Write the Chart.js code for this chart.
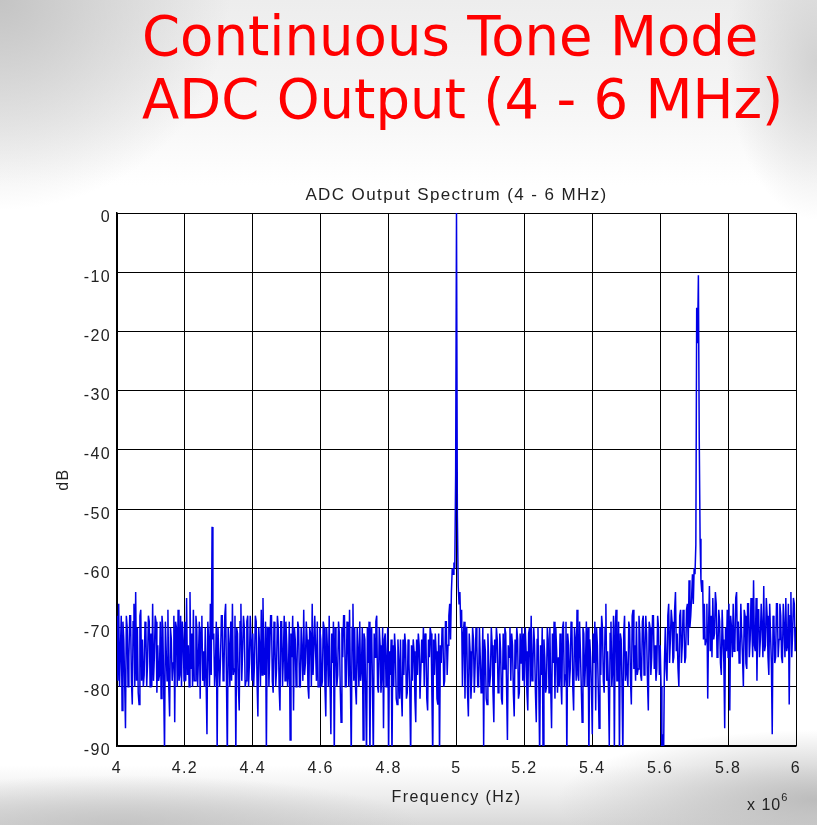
<!DOCTYPE html>
<html>
<head>
<meta charset="utf-8">
<script src="https://cdn.jsdelivr.net/npm/chart.js@4"></script>
<style>
  html, body { margin: 0; padding: 0; }
  body {
    width: 817px;
    height: 825px;
    position: relative;
    overflow: hidden;
    background:
      radial-gradient(ellipse 230px 210px at 0 0, #c4c4c4, rgba(196, 196, 196, 0) 100%),
      radial-gradient(ellipse 90px 160px at 817px 60px, #d2d2d2, rgba(210, 210, 210, 0) 100%),
      radial-gradient(ellipse 260px 70px at 817px 800px, #bcbcbc, rgba(188, 188, 188, 0) 100%),
      radial-gradient(ellipse 300px 50px at 120px 825px, #c4c4c4, rgba(196, 196, 196, 0) 100%),
      linear-gradient(to bottom, #ededed 0, #f7f7f7 120px, #fff 185px, #fff 765px, #eeeeee 795px, #d8d8d8 825px);
  }
  .slide-title {
    position: absolute;
    left: 142px;
    top: 0;
    font-family: "DejaVu Sans", sans-serif;
    font-size: 54.5px;
    line-height: 63px;
    color: #f00;
    white-space: nowrap;
    margin-top: 5px;
  }
  #chart { position: absolute; left: 0; top: 0; }
  .exp {
    position: absolute;
    left: 747px;
    top: 794px;
    font-family: "Liberation Sans", Arial, sans-serif;
    font-size: 16px;
    letter-spacing: 1px;
    color: #222;
  }
  .exp sup { font-size: 11px; position: relative; top: -3px; }
</style>
</head>
<body>
<div class="slide-title">Continuous Tone Mode<br>ADC Output (4 - 6 MHz)</div>
<canvas id="chart" width="817" height="825"></canvas>
<div class="exp">x 10<sup>6</sup></div>
<script>
// 스펙트럼 데이터 (4 MHz 부터 0.0025 MHz 간격, 한 줄 = 0.1 MHz)
const freqStart = 4;
const freqStep = 0.0025;
const dB = [
  -68, -79, -66, -80, -74, -68, -84, -69, -72, -79, -87, -68, -70, -80, -75, -68, -68, -79, -83, -69, -66, -80, -64, -79, -70, -81, -83, -68, -67, -79, -72, -80, -78, -69, -70, -80, -76, -68, -69, -80,
  -71, -80, -66, -79, -75, -68, -69, -81, -73, -79, -78, -69, -82, -68, -70, -80, -91, -69, -74, -79, -67, -80, -85, -70, -72, -79, -76, -68, -86, -69, -70, -80, -67, -79, -78, -68, -80, -69, -72, -79,
  -69, -79, -65, -78, -73, -80, -64, -77, -71, -80, -67, -79, -79, -68, -70, -80, -75, -69, -82, -70, -68, -79, -74, -80, -70, -79, -88, -69, -72, -80, -66, -78, -53, -72, -71, -80, -77, -69, -91, -70,
  -70, -80, -75, -68, -68, -79, -78, -68, -66, -79, -92, -70, -73, -80, -69, -79, -66, -78, -77, -68, -92, -70, -71, -80, -84, -69, -66, -79, -74, -68, -70, -80, -79, -69, -68, -80, -76, -68, -72, -79,
  -71, -80, -76, -68, -69, -79, -85, -70, -73, -80, -67, -78, -65, -77, -78, -69, -91, -70, -70, -80, -74, -68, -68, -79, -81, -69, -72, -80, -77, -68, -70, -80, -84, -69, -69, -80, -75, -68, -79, -69,
  -73, -80, -78, -69, -89, -71, -75, -68, -84, -70, -72, -80, -77, -69, -70, -80, -80, -70, -74, -79, -67, -78, -76, -69, -72, -80, -82, -70, -71, -80, -66, -78, -78, -68, -74, -79, -69, -80, -80, -70,
  -72, -80, -79, -69, -70, -80, -85, -70, -74, -80, -68, -79, -88, -71, -76, -69, -92, -70, -73, -80, -78, -69, -71, -80, -86, -70, -75, -68, -68, -80, -80, -69, -72, -80, -67, -79, -92, -70, -66, -79,
  -70, -80, -83, -70, -74, -80, -69, -79, -77, -70, -89, -71, -72, -81, -92, -70, -76, -69, -92, -72, -70, -80, -92, -71, -75, -69, -68, -80, -81, -70, -73, -81, -78, -70, -87, -72, -71, -80, -76, -70,
  -92, -74, -78, -72, -92, -73, -80, -71, -74, -82, -83, -72, -76, -82, -72, -81, -85, -72, -78, -71, -73, -82, -81, -72, -76, -81, -92, -73, -79, -72, -74, -82, -86, -72, -78, -71, -73, -82, -82, -72,
  -76, -70, -80, -71, -72, -82, -84, -72, -75, -70, -71, -81, -92, -72, -78, -71, -74, -82, -83, -71, -92, -73, -76, -70, -71, -80, -79, -69, -69, -78, -73, -68, -66, -72, -64, -60, -61, -59, -60, -44,
  0, -51, -63, -66, -64, -70, -67, -80, -71, -69, -82, -70, -70, -81, -85, -71, -74, -82, -78, -70, -72, -81, -76, -70, -73, -80, -80, -70, -75, -81, -78, -70, -90, -72, -74, -82, -83, -71, -76, -80,
  -78, -70, -73, -81, -86, -72, -76, -70, -72, -81, -80, -71, -74, -82, -83, -71, -77, -70, -71, -80, -89, -73, -75, -70, -79, -71, -73, -81, -85, -72, -77, -70, -72, -82, -81, -71, -76, -70, -79, -71,
  -80, -70, -74, -81, -84, -71, -70, -80, -68, -79, -77, -70, -73, -81, -86, -72, -70, -80, -92, -73, -78, -70, -92, -72, -75, -81, -80, -70, -72, -81, -70, -80, -87, -71, -76, -69, -82, -70, -74, -81,
  -75, -80, -71, -79, -83, -70, -69, -80, -78, -69, -92, -71, -73, -80, -77, -69, -70, -80, -84, -70, -72, -79, -67, -78, -79, -69, -74, -80, -86, -70, -71, -80, -76, -69, -80, -70, -92, -72, -75, -80,
  -88, -71, -76, -69, -84, -70, -73, -80, -87, -70, -78, -68, -70, -79, -81, -70, -66, -79, -74, -80, -90, -71, -69, -80, -77, -68, -91, -70, -67, -79, -79, -69, -92, -71, -72, -80, -92, -71, -68, -79,
  -74, -78, -80, -69, -70, -79, -83, -68, -67, -77, -73, -79, -69, -78, -77, -68, -71, -78, -79, -69, -68, -78, -74, -68, -71, -79, -84, -69, -70, -78, -75, -68, -68, -77, -73, -79, -77, -68, -70, -78,
  -73, -80, -92, -88, -92, -76, -70, -77, -79, -68, -66, -76, -72, -67, -69, -76, -75, -67, -64, -74, -71, -77, -80, -68, -67, -76, -73, -67, -69, -76, -75, -67, -66, -73, -62, -70, -68, -65, -61, -66,
  -60, -61, -56, -16, -22, -10.5, -38, -55, -62, -64, -62, -72, -66, -73, -72, -66, -82, -70, -63, -74, -68, -75, -65, -72, -71, -64, -66, -75, -74, -67, -69, -76, -78, -67, -72, -76, -87, -70, -74, -67,
  -75, -66, -84, -68, -70, -75, -66, -74, -73, -65, -64, -74, -69, -76, -75, -66, -71, -75, -80, -67, -68, -76, -77, -66, -66, -75, -72, -65, -70, -75, -62, -73, -74, -65, -79, -67, -67, -75, -72, -66,
  -70, -75, -63, -74, -73, -65, -68, -75, -78, -66, -71, -76, -88, -68, -69, -76, -75, -66, -66, -75, -72, -66, -68, -75, -76, -66, -70, -75, -65, -74, -73, -66, -83, -68, -64, -75, -71, -65, -66, -74,
  -70
];
const freqMHz = dB.map((v, i) => +(freqStart + i * freqStep).toFixed(4));
const xTicks = [4, 4.2, 4.4, 4.6, 4.8, 5, 5.2, 5.4, 5.6, 5.8, 6];
const yTicks = [0, -10, -20, -30, -40, -50, -60, -70, -80, -90];

const blue = "rgb(0, 0, 230)";
const tickFont = { family: "'Liberation Sans', Arial, sans-serif", size: 16 };

// 글자 간격 (캔버스가 리셋될 수 있으니 매번)
const spacing = {
  id: "spacing",
  beforeUpdate(chart) { chart.ctx.letterSpacing = "1.4px"; },
  beforeDraw(chart) { chart.ctx.letterSpacing = "1.4px"; },
};

let data = {
  datasets: [
    {
      label: "ADC",
      data: freqMHz.map((f, i) => ({ x: f, y: dB[i] })),
      borderColor: blue,
      borderWidth: 1.5,
      pointRadius: 0,
      tension: 0,
    },
  ],
};

let config = {
  type: "line",
  data: data,
  plugins: [spacing],
  options: {
    responsive: false,
    animation: false,
    devicePixelRatio: 1,
    layout: { padding: { top: 185, right: 21, left: 0, bottom: 0 } },
    plugins: {
      legend: { display: false },
      tooltip: { enabled: false },
    },
    scales: {
      // 그래프 제목 (플롯 영역 기준 가운데)
      top: {
        type: "linear",
        position: "top",
        min: 4,
        max: 6,
        afterFit: (scale) => { scale.height = 28; },
        ticks: { display: false },
        grid: { display: false, drawTicks: false },
        border: { display: false },
        title: {
          display: true,
          text: "ADC Output Spectrum (4 - 6 MHz)",
          color: "#222",
          font: { family: tickFont.family, size: 17 },
          padding: { top: 0, bottom: 0 },
        },
      },
      x: {
        type: "linear",
        min: 4,
        max: 6,
        afterFit: (scale) => { scale.height = 79; },
        afterBuildTicks: (scale) => { scale.ticks = xTicks.map((v) => ({ value: v })); },
        ticks: {
          color: "#222",
          font: tickFont,
          padding: 13,
          maxRotation: 0,
          callback: (v) => String(+v.toFixed(1)),
        },
        grid: { color: "#000", lineWidth: 1, drawTicks: false },
        border: { color: "#000", width: 1.5 },
        title: {
          display: true,
          text: "Frequency (Hz)",
          color: "#222",
          font: tickFont,
          padding: { top: 0, bottom: 18 },
        },
      },
      y: {
        min: -90,
        max: 0,
        afterFit: (scale) => { scale.width = 117; },
        afterBuildTicks: (scale) => { scale.ticks = yTicks.map((v) => ({ value: v })); },
        ticks: {
          color: "#222",
          font: tickFont,
          padding: 6,
          labelOffset: 5,
        },
        grid: { color: "#000", lineWidth: 1, drawTicks: false },
        border: { color: "#000", width: 1.5 },
        title: {
          display: true,
          text: "dB",
          color: "#222",
          font: tickFont,
          padding: { top: 54, bottom: 0 },
        },
      },
    },
  },
};

new Chart(document.getElementById("chart"), config);
</script>
</body>
</html>
